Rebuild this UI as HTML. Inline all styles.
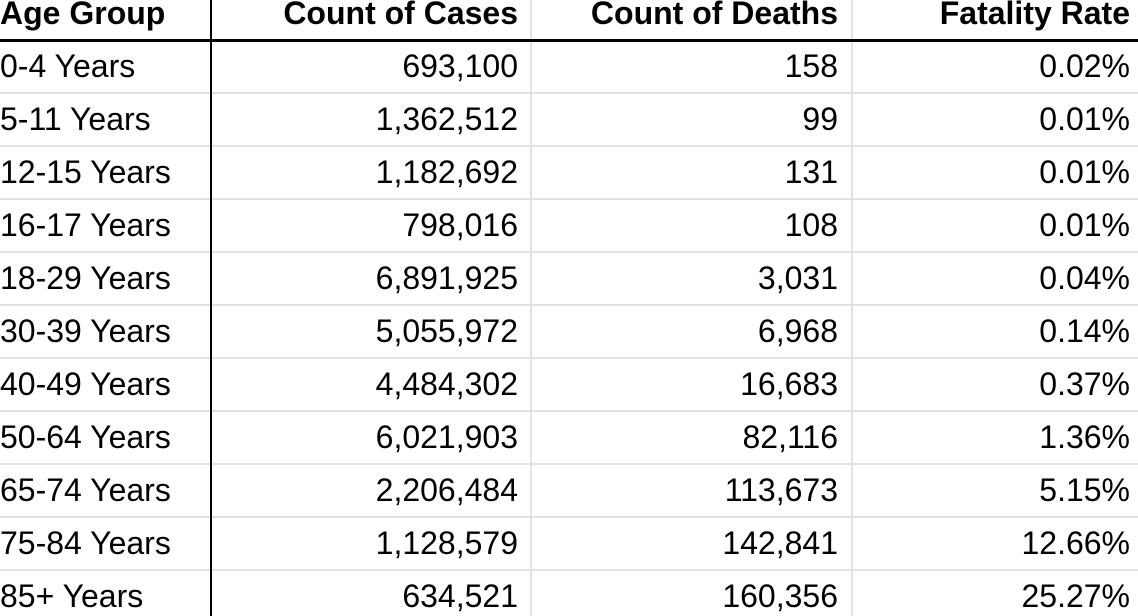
<!DOCTYPE html>
<html><head><meta charset="utf-8">
<style>
html,body{margin:0;padding:0;background:#fff;}
#t{position:relative;width:1138px;height:616px;overflow:hidden;font-family:"Liberation Sans",Arial,sans-serif;font-size:32px;color:#000;}
.c{position:absolute;height:53px;line-height:53px;white-space:nowrap;}
.h{font-weight:bold;}
.l{text-align:left;}
.r{text-align:right;}
.vl{position:absolute;top:0;bottom:0;width:2px;background:#e2e2e2;}
.hl{position:absolute;left:0;right:0;height:2px;background:#e2e2e2;}
</style></head>
<body>
<div id="t"></div>
<script>
const ageGroups=["0-4 Years","5-11 Years","12-15 Years","16-17 Years","18-29 Years","30-39 Years","40-49 Years","50-64 Years","65-74 Years","75-84 Years","85+ Years"];
const cases=["693,100","1,362,512","1,182,692","798,016","6,891,925","5,055,972","4,484,302","6,021,903","2,206,484","1,128,579","634,521"];
const deaths=["158","99","131","108","3,031","6,968","16,683","82,116","113,673","142,841","160,356"];
const rates=["0.02%","0.01%","0.01%","0.01%","0.04%","0.14%","0.37%","1.36%","5.15%","12.66%","25.27%"];
const headers=["Age Group","Count of Cases","Count of Deaths","Fatality Rate"];
const t=document.getElementById('t');
const colL=[0,212,531,852], colR=[211,518,838,1130];
const pitch=53, headTop=-13, rowTop=39;
function cell(txt,ci,top,cls,name){
  const d=document.createElement('div');
  d.className='c '+cls+(ci===0?' l':' r');
  d.style.top=top+'px';
  if(ci===0){d.style.left='0px';d.style.width='205px';}
  else{d.style.left=colL[ci]+'px';d.style.width=(colR[ci]-colL[ci])+'px';}
  d.textContent=txt;
  
  
  t.appendChild(d);
}
// grid lines
for(let i=1;i<=11;i++){
  const y=rowTop+pitch*i;
  const l=document.createElement('div');
  l.className='hl';l.style.top=y+'px';
  
  
  t.appendChild(l);
}
[530,851].forEach(x=>{
  const v=document.createElement('div');
  v.className='vl';v.style.left=x+'px';
  
  
  t.appendChild(v);
});
const hb=document.createElement('div');
hb.style.cssText='position:absolute;left:0;right:0;top:39px;height:3px;background:#000;';


t.appendChild(hb);
const vb=document.createElement('div');
vb.style.cssText='position:absolute;left:210px;top:0;bottom:0;width:2px;background:#000;';


t.appendChild(vb);
headers.forEach((h,i)=>cell(h,i,headTop,'h','header-cell'));
for(let r=0;r<ageGroups.length;r++){
  const top=rowTop+pitch*r+1;
  cell(ageGroups[r],0,top,'','age-group-cell');
  cell(cases[r],1,top,'','cases-cell');
  cell(deaths[r],2,top,'','deaths-cell');
  cell(rates[r],3,top,'','fatality-rate-cell');
}
</script>
</body></html>
